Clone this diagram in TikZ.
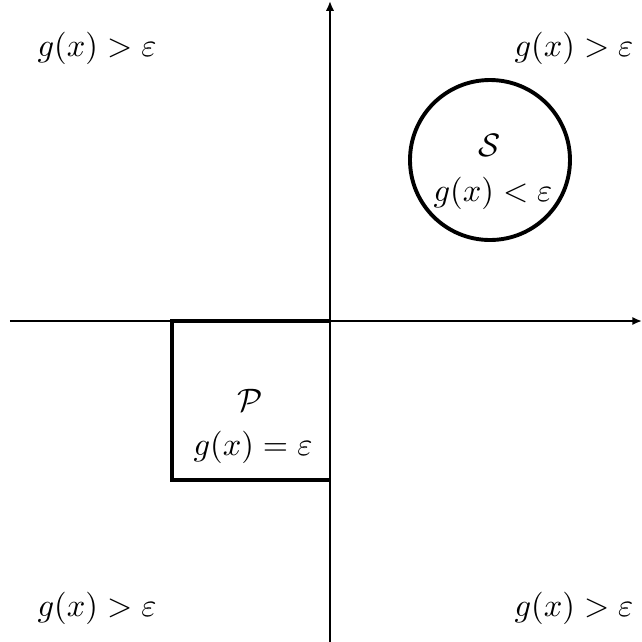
\documentclass[tikz,border=0pt]{standalone}
\usetikzlibrary{arrows.meta}
\begin{document}
\begin{tikzpicture}[x=0.308pt,y=-0.308pt,
  axis/.style={line width=0.9pt,-{Latex[length=3pt,width=2.6pt]}},
  region/.style={line width=1.2pt},
  lbl/.style={inner sep=0pt}]
\useasboundingbox (0,0) rectangle (642,642);
\coordinate (xl) at (10,321);
\coordinate (xr) at (642,321);
\coordinate (yb) at (330,642);
\coordinate (yt) at (330,1);
\draw[axis] (xl) -- (xr);
\draw[axis] (yb) -- (yt);
\draw[region] (331,321) -- (172,321) -- (172,480) -- (331,480);
\node[region,draw,circle,minimum size=160*0.308pt,inner sep=0pt] (S) at (490,160) {};
\node[lbl] (tS) at (490,145) {$\mathcal{S}$};
\node[lbl] (gS) at (493,193) {$g(x) < \varepsilon$};
\node[lbl] (tP) at (250,400) {$\mathcal{P}$};
\node[lbl] (gP) at (253,447) {$g(x) = \varepsilon$};
\node[lbl] (tl) at (97,48) {$g(x) > \varepsilon$};
\node[lbl] (tr) at (574,48) {$g(x) > \varepsilon$};
\node[lbl] (bl) at (97,608) {$g(x) > \varepsilon$};
\node[lbl] (br) at (574,608) {$g(x) > \varepsilon$};
\end{tikzpicture}
\end{document}
